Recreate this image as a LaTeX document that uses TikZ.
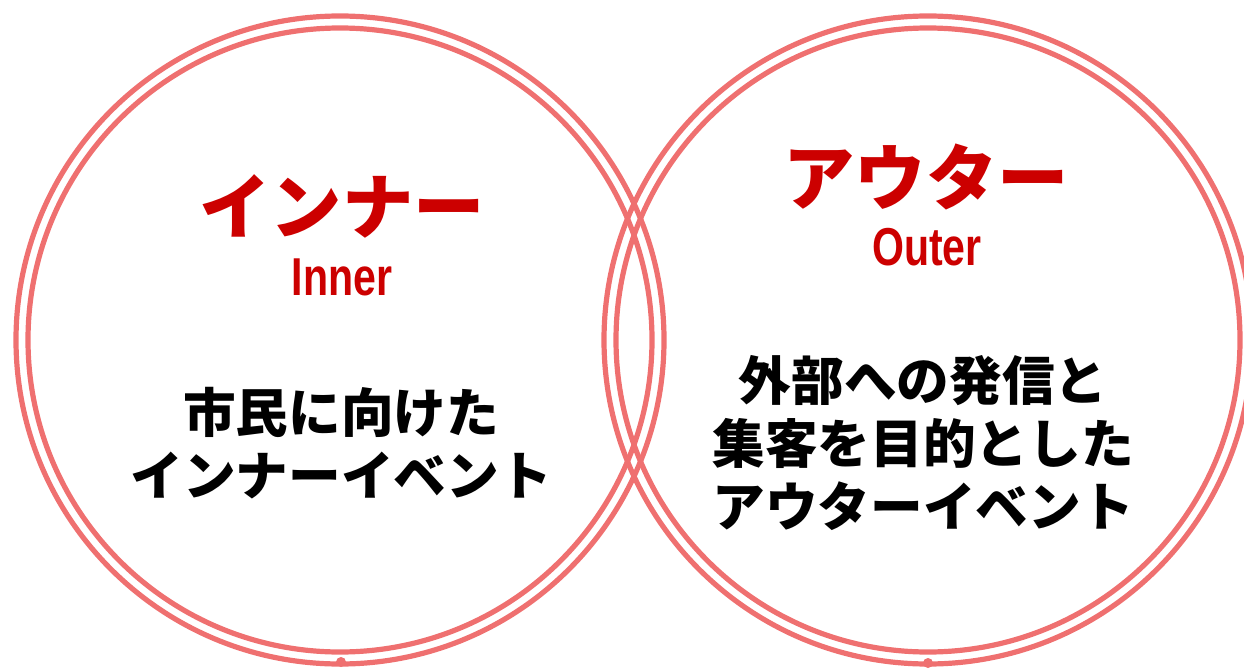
\documentclass[tikz,border=0pt]{standalone}
\usepackage{fontspec}
\newfontfamily\cjk{Noto Sans CJK JP}
\newfontfamily\lat{Liberation Sans}
\definecolor{ring}{RGB}{239,112,112}
\definecolor{titred}{RGB}{204,0,0}
\begin{document}
\begin{tikzpicture}[x=0.75pt,y=-0.75pt,
  ringline/.style={draw=ring,line width=3.9pt},
  jtitle/.style={inner sep=0pt,text=titred,font=\cjk\bfseries\fontsize{53.5}{60}\selectfont},
  etitle/.style={inner sep=0pt,text=titred,font=\lat\bfseries\fontsize{40}{46}\selectfont,xscale=0.77},
  body/.style={inner sep=0pt,align=center,text=black,font=\cjk\bfseries\fontsize{39.5}{47}\selectfont}]
\useasboundingbox (0,0) rectangle (1244,670);
% circles
\coordinate (cl) at (340,340);
\coordinate (cr) at (928,340);
\draw[ringline] (cl) circle[radius=324];
\draw[ringline] (cl) circle[radius=312];
\draw[ringline] (cr) circle[radius=324];
\draw[ringline] (cr) circle[radius=312];
\fill[ring] (341,662) circle[radius=5] coordinate (dl);
\fill[ring] (928,663) circle[radius=5] coordinate (dr);
% left texts
\node[jtitle] (ti) at (342,206) {インナー};
\node[etitle] (te) at (342,277) {Inner};
\node[body] (bi) at (341,443) {市民に向けた\\インナーイベント};
% right texts
\node[jtitle] (to) at (926,177) {アウター};
\node[etitle] (toe) at (927,247) {Outer};
\node[body] (bo) at (923,443) {外部への発信と\\集客を目的とした\\アウターイベント};
\end{tikzpicture}
\end{document}
